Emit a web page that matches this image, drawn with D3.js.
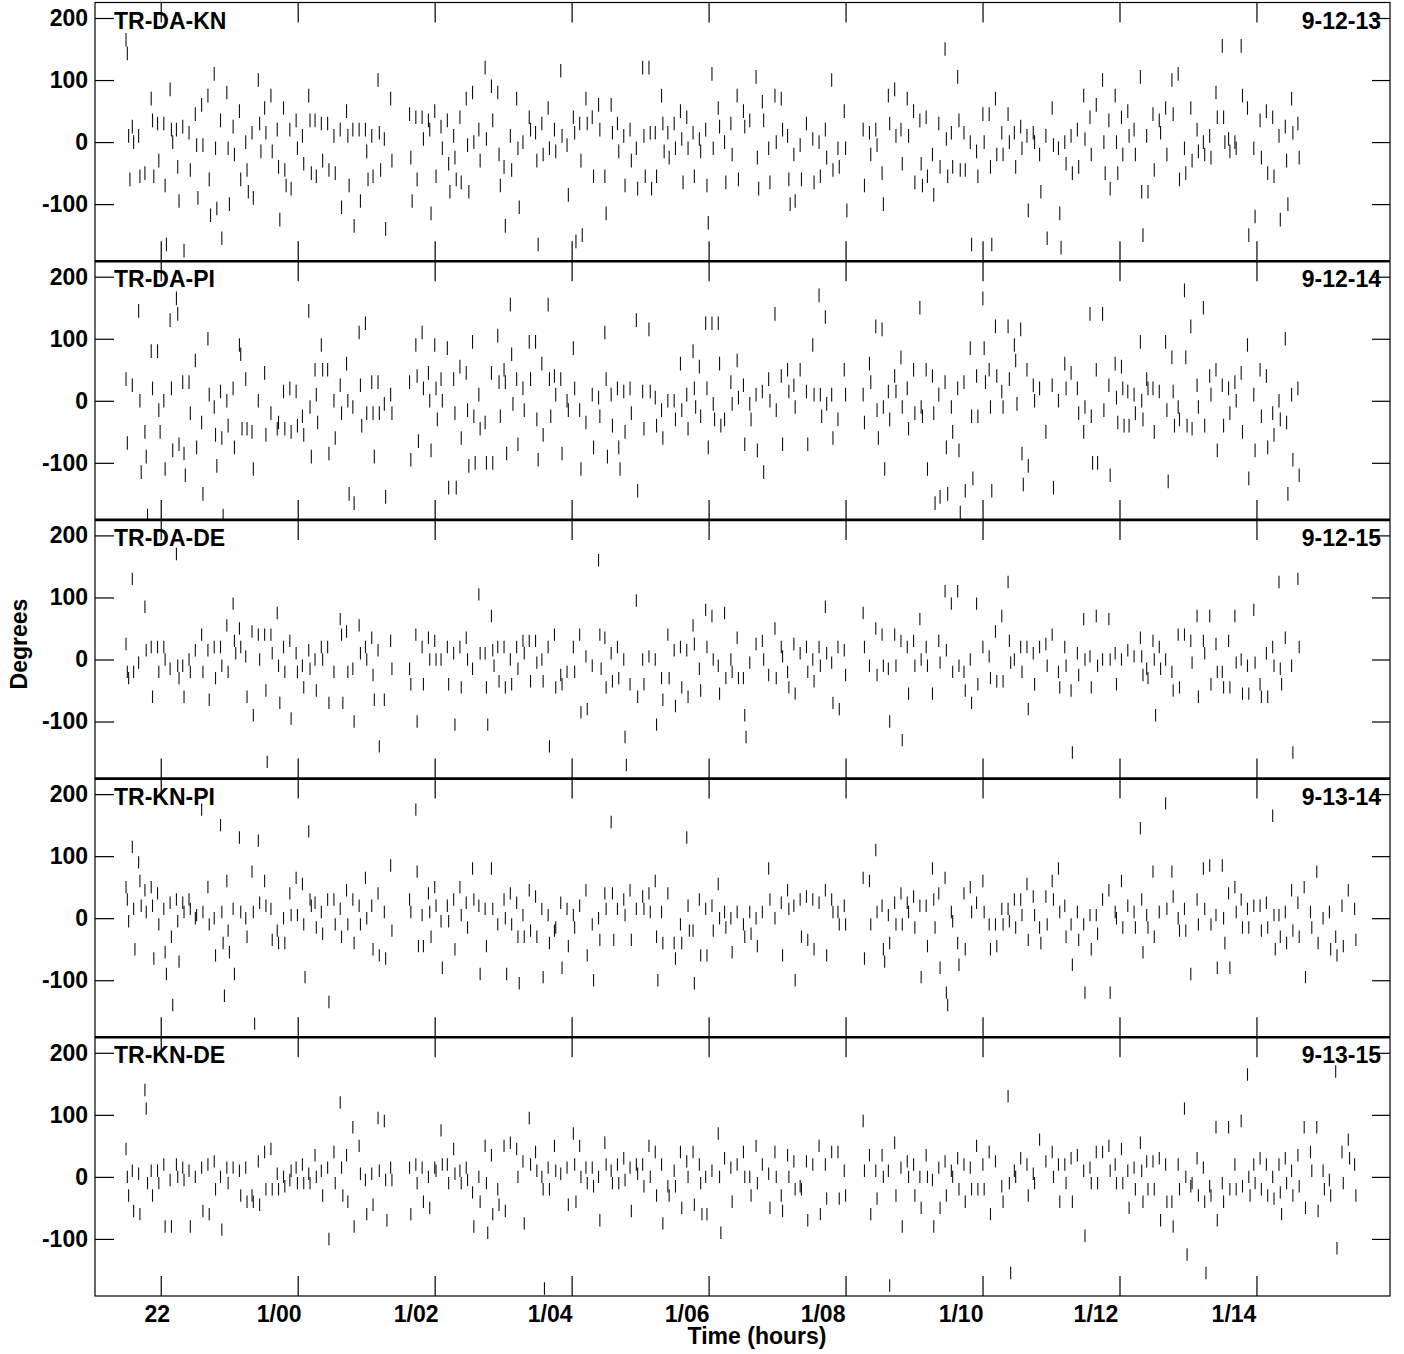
<!DOCTYPE html>
<html><head><meta charset="utf-8">
<script src="https://cdn.jsdelivr.net/npm/d3@7"></script>
<style>html,body{margin:0;padding:0;background:#fff}</style>
</head><body>
<script>
// ---------------- data ----------------
const panelNames = ["TR-DA-KN","TR-DA-PI","TR-DA-DE","TR-KN-PI","TR-KN-DE"];
const panelDates = ["9-12-13","9-12-14","9-12-15","9-13-14","9-13-15"];
const scanStart = 21.493;   // hours, first scan
const scanStep = 0.092;     // hours between scans
const yTicks = [-100, 0, 100, 200];
const xTicks = [22, 24, 26, 28, 30, 32, 34, 36, 38];
const xTickLabels = ["22","1/00","1/02","1/04","1/06","1/08","1/10","1/12","1/14"];
const yTitle = "Degrees";
const xTitle = "Time (hours)";

// phase (degrees) per scan; each inner list = values in that scan
const daKn = [
[165,143,10,-60],[25,0],[10,-55],[-50],[70,35,-55],[30,-30],[30,-70,-165],[85,20,0],[20,-40,-95],[25,-175],
[15,-45],[45,-5,-90],[60,-5],[75,-60,-118],[110,-10,-107],[35,-155],[80,-10,-100],[25,-20],[50,-60],[0,-45,-80],
[15,-90],[100,30,-15],[55,15],[75,-15],[20,-40,-125],[55,-45,-70],[20,-75],[35,-10],[10,-35],[75,35,-50],
[35,-55],[30,-30],[30,-45],[10,-50],[20,-105],[50,10,-70],[20,-135],[20,-95],[20,-15,-60],[10,-55],
[100,15,-45],[5,-140],[70,-30],[],[],[45,-25,-95],[40,-60],[40,5],[35,20,-115],[50,-55],
[25,-10],[35,-35,-80],[10,-25,-60],[40,-65],[70,-5,-80],[80,0],[20,-30],[120,5],[90,35],[80,-20,-70],
[-40,-135],[10,-45],[70,-10,-105],[0],[40,20],[15,-30,-165],[30,-20],[55,-10],[20,-15],[115,10],
[-5,-85],[40,15,-160],[30,-30,-150],[70,30],[40,-55],[60,20],[-55,-115],[60,15],[30,-15],[10,-70],
[20,-30],[-10,-75],[120,10,-55],[120,15,-75],[15,-55],[75,30,-15],[15,-25],[30,-10],[50,5,-65],[40,-10],
[15,-55],[5,-15],[20,-70,-130],[110,-10],[55,25],[0,-65],[30,-20],[75,-60],[50,25],[35],
[105,-25,-75],[65,35],[-10,-65],[75,0],[70,20],[10,-60,-100],[-20,-95],[-5,-60],[30],[5,-65],
[0,-55],[20,-25],[100,-45],[-10,-40],[50,-10,-110],[],[],[20,-70],[15,-20],[20,-5],
[-50,-100],[75,30],[85,10],[20,-35],[70,10],[50,-65],[35,-35,-70],[40,-55],[-20,-85],[30,-40],
[150,5,-55],[15,-40],[105,35,-45],[15,-45],[0,-165],[-15,-55],[45,0],[45,-40,-165],[70,-20],[15,-20],
[45,0],[15,-40],[25,-10],[10,-110],[15,0],[-20,-80],[10,-155],[55,-5],[-10,-115,-170],[0,-35],
[10,-50],[20,-40],[75,5],[40,-20],[60],[100,0,-50],[35,-75],[75,0,-50],[40,-20],[50,10],
[20,-20],[105,-80,-150],[10,-80],[45,-45],[35,15],[55,-20],[100,45],[110,-60],[-10,-50],[55,-30],
[20,-15],[0,-20],[10,-25],[80,40],[155,40,0],[5,-15],[0,-10],[155,75],[55,-150],[-10,-120],
[35,-25],[50,-50],[40,-55],[10,-125],[25,-30,-100],[70,15],[30,-25]
];
const daPi = [
[35,-68],[25],[145,0,-115],[-50,-90,-185],[80,20],[80,-15,-50],[0,-110],[130,20,-80],[165,140,-70],[30,-85,-120],
[30,-20],[65,-75],[-35,-150],[100,10],[-10,-55,-105],[15,-60,-185],[0,-40],[20,-75],[90,75,-45],[35,-45],
[-50,-110],[0],[45,-55],[-20],[-45,-35],[15,-45],[20,-50],[15,-40],[-25,-55],[145,-10,-90],
[50,10,-35],[90,50],[50,-85],[0,-60],[25,-20],[60,0,-150],[-10,-165],[110,25,-40],[125,-20],[30,-20,-90],
[30,-20],[-5,-155],[10,-20],[],[],[30,-95],[90,40,-65],[110,20],[45,0,-80],[90,20,-30],
[35,0],[85,-140],[35,-20,-140],[55,-60],[45,-15,-105],[95,-25,-100],[10,-45],[-35,-100],[45,-100],[105,30,-25],
[50,30,-85],[155,75,-5],[35,-70],[20,-15],[95,35],[95,-30,-95],[60,-55],[155,35,-25],[40,10],[35,-85],
[0,-15],[85,20],[-15,-110],[-35],[10,-75],[5,-25],[110,35,-90],[10,-40],[20,-75,-110],[15,-50],
[20,-20],[130,-145],[15,-45],[115,15],[5,-40],[-15,-60],[0],[0,-30],[60,-15],[10,-45],
[80,20,-10],[55,-25],[125,20,-75],[125,-5,-30],[125,60,-40],[-30],[30,-5],[65,5],[25,-70],[-5,-30],
[10,-80],[15,-115],[35,0],[140,-15],[40,-70],[50,15],[25,-10],[50],[15,-70],[90,10],
[170,10,-25],[135,-5],[10,-60],[-30],[50,10],[],[],[10,-35],[60,30],[120,-15,-60],
[115,-10,-110],[15,-30],[40,15],[70,-10],[20,-45],[50,-20],[150,-10,-25],[50,-110],[40,-20,-165],[10,-155],
[30,-75,-150],[-10,-50],[20,-80,-180],[30,-145],[85,-25,-125],[40,-25],[165,85,30],[50,-10,-145],[120,40],[15,-10],
[120,35],[90,65,-5],[115,-85,-135],[50,-105],[25,0],[20],[-50],[25,-140],[0],[60,20],
[45],[20,-20],[-50,-10],[140,-25,-100],[50,-100],[140,-15],[25,-120],[60,5,-35],[55,20,-40],[15,-40],
[10,-20],[95,0,-30],[35,20],[20,-50],[15],[95,-15,-130],[70,15,-40],[-10,-30],[178,70,-40],[120,-45],
[25,-10],[150,-40],[40,10],[50,-80],[25,-40],[20,-20],[30,0],[45,-50],[90,-125],[10,-80],
[50,-25],[40,-75],[-20,-55],[0,-30],[100,-35,-150],[10,-95],[20,-120]
];
const daDe = [
[25,-20,-30],[130,-20],[-5],[85,15],[20,-60],[20,-20],[20,0],[-15],[170,-10,-30],[-10,-60],
[0,-20],[15],[40,-20],[15,-65],[20,-30],[20,-10],[55,-20],[90,30,10],[50,20],[5,-60],
[45,-90],[40,0],[40,-50,-165],[40,10],[75,-10,-70],[20,-20],[30,-95],[10,-20],[-10,-45],[15,-15],
[0,-50],[20,0],[20,-70],[-20],[65,40,-70],[45,-20],[-15,-100],[55,10],[20,0],[35,-25,-65],
[15,-140],[-65],[30,-15],[],[],[-15,-40],[40,-100],[20,-40],[35,0],[30,0],
[0],[20,-40],[10,-105],[20,-45],[35,0],[-15],[105,10],[10,-45,-105],[70,15,-10],[20,-35],
[20,-45],[0,-40],[20,-15],[30,10],[30,-35],[30,-5],[0,-35],[20,-140],[40,-45],[-25,-40],
[-20],[20,-20],[40,-85],[5,-80],[-10],[160,40,-15],[35,-45],[10,-35],[20,-30],[0,-125,-170],
[-40],[95,-60],[0,-40],[5],[0,-105],[-30,-65],[40,-30],[15,-75],[20,-45],[15,-60],
[55,25],[-15,-50],[80,20],[70,0],[-10,-55],[75,-30],[0,-20],[35,-30],[-30,-90,-125],[-5],
[25],[30,0],[-25],[50,-30],[20,5],[-20,-45],[25,-55],[10],[20,-20],[0,-35],
[20,-10],[85,10],[-5,-70],[20,-80],[15,-25],[],[],[75,20],[-10],[50,-25],
[40,-10],[-15,-100],[40,-10],[30,-130],[20,-55],[30,-10],[65,0],[20,-10],[-55],[30,-5],
[110,15],[90,-20],[110,-10],[-20,-50],[0,-70],[90,-40],[20],[5,-30],[45,-35],[70,-35],
[125,30,-5],[0],[20,-20],[20,-80],[10,-40],[20],[25,-10],[40],[-20,-45],[20,-10],
[-50,-150],[10,-25],[65,0],[5,-45],[70,-10],[0],[65,0],[10,-40],[0],[15],
[5],[35,5,-25],[-15,-30],[30,0,-90],[20,-15],[0],[-20,-50],[40,-45],[40],[30,-5],
[70,-60],[30,10],[70,-40],[25,-20],[-20,-45],[30,-45],[70,-5],[0,-55],[-10,-55],[80,-5],
[-40,-60],[10,-60],[20,-10],[125,-15,-40],[35],[-10,-150],[130,20]
];
const knPi = [
[50,30,-5],[115,15,-50],[90,60,20],[45,10],[50,20,-65],[40,-10],[15,-55,-90],[25,-30,-140],[30,-5,-70],[25,10],
[30,15],[0,5],[175,10],[50,-10],[0,-60],[150,10,-40,-125],[60,-20,-55],[15,-90],[130,10],[0,-30],
[75,10,-170],[125,25],[60,20],[15,-35],[-20,-40],[0,-40],[40,5],[65,5],[55,-10,-95],[140,30,20],
[25,-15],[10,-25],[30,-135],[30,-10],[15,-30],[45,-10],[30,-40],[20,-10],[65,0],[20,-50],
[40,-60],[10,-65],[85,-20],[],[],[30,10],[175,75,-45],[5,-45],[40,10,-30],[50,20],
[-5,-80],[20,-5],[30,-50],[50,5],[25,-15],[80,30],[20,-90],[15,-45],[80,15],[-10],
[30,0,-90],[40,-10],[25,-30,-105],[5,-30],[45,-20],[35,-30],[15,-95],[5,-40],[-20,-15],[25,-80],
[15,-45],[5,-15],[20],[45,-60],[-10,-100],[0,-35],[40,15],[155,40,-35],[15],[30,5],
[45,-35],[15],[35,15],[40,10],[60,-30,-100],[10,-40],[40],[-40,-65],[-10,-40],[130,20,-20],
[-20,-105],[30,-60],[15,-60],[20,-20],[55,0],[10,-15],[0,-55],[10],[-10,-30],[10,-25],
[0,-45],[10],[80,30],[0],[25,-60],[45,15],[20,-100],[30,-30],[35,-35],[30,-50],
[25],[45,-60],[30,10],[10,-10],[20,-10],[],[],[65,-65],[60,-10],[110,10],
[20,-50,-70],[5,-40],[25,-10],[40,-10],[25,10],[35,-15],[20,-95],[20,-45],[80,30,-15],[40,-80],
[65,-120,-140],[10,-5],[-40,-75],[40,-50],[50,10],[25],[60,10],[-10,-50],[-10,-45],[15,-10],
[15,-5],[30,-15],[30,5],[55,-35],[35,5],[-15,-40],[35,-10],[60,30],[80,10],[20,-30],
[-10,-75],[10,-35],[-10,-120],[5,-50],[5,-25],[30],[45,-120],[10,0],[60,-15],[20],
[10,-15],[145,30,-55],[5,-15],[75,-30],[10],[185,15],[75,35],[0,-20],[15,-20],[-90],
[30,-10],[80,15],[85,-10],[5,-80],[85,0,-40],[40,-80],[50,10],[30,-15],[15,-15],[20],
[20,-20],[25,-15],[165,5,-50],[5,-30],[10,-40],[45,-20],[25,-30],[50,-95],[10,-15],[75,-40],
[0],[10,-50],[-30,-60],[20,-45],[45],[15,-35]
];
const knDe = [
[45,0,-30],[10,-55],[5,-60],[140,110,-10],[10,-30],[10,-10],[20,-80],[-5,-80],[20,0],[15,-5],
[10,-80],[0],[15,-55],[20,-60],[25,-20],[0,-85],[15,-10],[15],[10,-30],[15,-40],
[-30,-40],[25,-45],[40,-20],[45,-20],[5,-20],[0,-15],[-5,10],[15,-10],[20,-10],[5,-10],
[35,0],[10,-30],[15,-100],[40,-10],[120,15,-30],[35,-40],[80,-80],[50,5],[-5,-60],[5,-45],
[95,10],[90,-5,-70],[15,-5],[],[],[15,-60],[20,-10],[15,-40],[0,-50],[15,10],
[75,20],[20,-10],[45,5],[10,-10],[15,-5],[-25,-80],[0,-40],[50,-10,-90],[35,-60],[-20,-45],
[50,-55],[55],[45,0],[25,-75],[95,20],[40,10],[0,-20,-180],[15,-20],[50,10],[5],
[15,-45],[70,20,-40],[50,0],[15,-10],[15,-15],[0,-70],[55,20],[10,-10],[20,-10],[30,-5],
[15,-55],[20,5],[20,-15],[50,0],[40,-30],[20,-75],[-15,-30],[10,-15],[40,-50],[25,0],
[40,-45],[20,-10,-60],[0,-60],[10],[70,0,-90],[30],[15,-40],[20],[40,0],[0,-30],
[50,-10],[20],[5,-50],[40,0],[-30,-55],[35,0],[25,-20],[-15,-20],[25,-70],[20],
[50,-60],[20,-35],[40],[40,-35],[10,-30],[],[],[90,10],[35,-60],[10,-35],
[35,0],[10,-175],[55,-30],[15,-80],[25,0],[20,-30],[0,-50],[35,0],[-5,-80],[15,-50],
[25,-30],[10,0],[30,-20],[20,-40],[15,-20],[50,-20],[20,-20],[40,-60],[25],[-15,-40],
[130,-10,-155],[10,0],[30],[20,-30],[5,-10],[60],[25],[40,0],[20,-40],[20,-10],
[30,-40],[35],[10,-95],[15,-10],[40,-10],[40],[50,10],[20,-10],[45,-10],[10,-50],
[15,-20],[55,10,-40],[25,-20],[25,-20],[30,-70],[20,-40],[-40,-80],[20,-20],[110,0,-125],[-15,-10],
[30,-30],[15,-40,-155],[-15,-30],[80,-70],[-10,-40],[80,-20],[20,-20],[90,-15],[165,0,-30],[20,-10],
[30,-20],[20,-30],[0,-35],[20,-25,-60],[30,-10],[10,-30],[35,-15],[80,-50],[40,10],[80,-55],
[10,-20],[-5,-30],[170,-115],[40,-10],[60,30],[20,-30]
];
const panelData = [daKn, daPi, daDe, knPi, knDe];
const phaseErr = [11, 11, 10, 10, 10];   // half length of each error bar, degrees

// ---------------- layout ----------------
const W = 1404, H = 1354;
const plotL = 95, plotR = 1390, plotT = 2.5, panelH = 258.7;
const yDomain = [-192, 225];
const xDomain = [21.04, 39.95];
const FONT = '"Liberation Sans", Arial, Helvetica, sans-serif';
const labelShift = [-4, -19, -19, -22, -22, -23, -22, -24, -23];

const svg = d3.select("body").append("svg")
  .attr("width", W).attr("height", H)
  .style("display","block").style("background","#fff");
svg.append("rect").attr("width", W).attr("height", H).attr("fill", "#fff");

const x = d3.scaleLinear().domain(xDomain).range([plotL, plotR]);

function styleAxis(g){
  g.attr("font-family", FONT).attr("font-size", 23).attr("font-weight", "bold");
  g.select(".domain").remove();
  g.selectAll(".tick line").attr("stroke", "#000").attr("stroke-width", 1.2);
  g.selectAll(".tick text").attr("fill", "#000");
}

panelData.forEach((data, i) => {
  const top = plotT + i * panelH, bot = top + panelH;
  const y = d3.scaleLinear().domain(yDomain).range([bot, top]);

  const clipId = "clip" + i;
  svg.append("clipPath").attr("id", clipId).append("rect")
    .attr("x", plotL).attr("y", top).attr("width", plotR - plotL).attr("height", panelH);

  const pts = [];
  data.forEach((col, k) => col.forEach((v, j) => pts.push({t: scanStart + k * scanStep, v: v, j: j})));

  svg.append("g").attr("clip-path", `url(#${clipId})`)
    .selectAll("line").data(pts).join("line")
    .attr("x1", d => x(d.t) + d.j * 1.3).attr("x2", d => x(d.t) + d.j * 1.3)
    .attr("y1", d => y(d.v + phaseErr[i])).attr("y2", d => y(d.v - phaseErr[i]))
    .attr("stroke", "#111").attr("stroke-width", 1.1);

  // y axes
  svg.append("g").attr("transform", `translate(${plotL},0)`)
    .call(d3.axisLeft(y).tickValues(yTicks).tickSizeInner(-19).tickSizeOuter(0).tickPadding(7).tickFormat(d => String(d)))
    .call(styleAxis);
  svg.append("g").attr("transform", `translate(${plotR},0)`)
    .call(d3.axisRight(y).tickValues(yTicks).tickSizeInner(-18).tickSizeOuter(0).tickFormat(""))
    .call(styleAxis);
  // x axes
  svg.append("g").attr("transform", `translate(0,${top})`)
    .call(d3.axisTop(x).tickValues(xTicks).tickSizeInner(-20).tickSizeOuter(0).tickFormat(""))
    .call(styleAxis);
  const gb = svg.append("g").attr("transform", `translate(0,${bot})`)
    .call(d3.axisBottom(x).tickValues(xTicks).tickSizeInner(-20).tickSizeOuter(0).tickPadding(10)
      .tickFormat((d, n) => i === panelData.length - 1 ? xTickLabels[n] : ""))
    .call(styleAxis);
  gb.selectAll(".tick text").attr("dx", (d, n) => labelShift[n]);

  // panel labels
  svg.append("text").attr("x", 114).attr("y", top + 26)
    .attr("font-family", FONT).attr("font-size", 23).attr("font-weight", "bold").attr("fill", "#000")
    .text(panelNames[i]);
  svg.append("text").attr("x", 1381).attr("y", top + 26).attr("text-anchor", "end")
    .attr("font-family", FONT).attr("font-size", 23).attr("font-weight", "bold").attr("fill", "#000")
    .text(panelDates[i]);
});

// frame
svg.append("rect").attr("x", plotL).attr("y", plotT).attr("width", plotR - plotL).attr("height", panelH * 5)
  .attr("fill", "none").attr("stroke", "#000").attr("stroke-width", 1.2);
for (let i = 1; i < 5; i++) {
  svg.append("line").attr("x1", plotL).attr("x2", plotR)
    .attr("y1", plotT + i * panelH).attr("y2", plotT + i * panelH)
    .attr("stroke", "#000").attr("stroke-width", 2.6);
}

// titles
svg.append("text").attr("transform", "translate(27,644) rotate(-90)").attr("text-anchor", "middle")
  .attr("font-family", FONT).attr("font-size", 23).attr("font-weight", "bold").attr("fill", "#000")
  .text(yTitle);
svg.append("text").attr("x", 757).attr("y", 1344).attr("text-anchor", "middle")
  .attr("font-family", FONT).attr("font-size", 23).attr("font-weight", "bold").attr("fill", "#000")
  .text(xTitle);
</script>
</body></html>
